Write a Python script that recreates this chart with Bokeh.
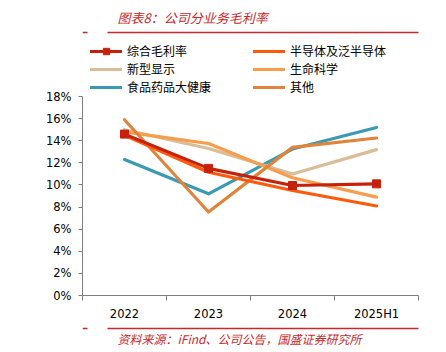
from bokeh.plotting import figure
from bokeh.models import (Legend, LegendItem, FixedTicker, Label, BoxAnnotation, Range1d)
from bokeh.layouts import column
from bokeh.embed import file_html
from bokeh.resources import INLINE

categories = ["2022", "2023", "2024", "2025H1"]
overall = [14.6, 11.5, 9.95, 10.1]
semi = [14.5, 11.15, 9.5, 8.1]
display_ = [15.0, 13.3, 11.0, 13.2]
life = [14.8, 13.75, 10.65, 8.9]
food = [12.3, 9.2, 13.25, 15.2]
other = [15.9, 7.55, 13.4, 14.25]
y_ticks = [0, 2, 4, 6, 8, 10, 12, 14, 16, 18]

colors = {"综合毛利率": "#C5220C", "半导体及泛半导体": "#FF5A0C", "新型显示": "#D8BD97",
          "生命科学": "#F89C4D", "食品药品大健康": "#3A9AB3", "其他": "#DF843A"}
series = {"综合毛利率": overall, "半导体及泛半导体": semi, "新型显示": display_,
          "生命科学": life, "食品药品大健康": food, "其他": other}

xs = [i + 0.5 for i in range(len(categories))]
RED = "#C8282D"
W = 446
HEAD_H, MAIN_H, FOOT_H = 40, 284, 28


def red_rule(fig, y):
    for l, r in [(25, 440), (0, 5)]:
        fig.add_layout(BoxAnnotation(left=l, right=r, bottom=y - 0.8, top=y + 0.8,
                                     left_units="screen", right_units="screen",
                                     top_units="screen", bottom_units="screen",
                                     fill_color=RED, fill_alpha=1, line_color=None))


def blank_fig(h):
    f = figure(width=W, height=h, output_backend="svg", toolbar_location=None,
               x_range=Range1d(0, 1), y_range=Range1d(0, 1),
               x_axis_location=None, y_axis_location=None, min_border=0)
    f.outline_line_color = None
    f.xgrid.visible = False
    f.ygrid.visible = False
    return f


# header
head = blank_fig(HEAD_H)
head.add_layout(Label(x=35, y=HEAD_H - 17, x_units="screen", y_units="screen",
                      text="图表8：公司分业务毛利率",
                      text_font="Noto Sans CJK SC", text_font_size="13px", text_font_style="italic",
                      text_color=RED, text_baseline="middle"))
red_rule(head, HEAD_H - 32)

# main chart
p = figure(width=W, height=MAIN_H, output_backend="svg", toolbar_location=None,
           x_range=Range1d(0, len(categories)), y_range=Range1d(0, 23.07),
           min_border_left=82, min_border_right=28, min_border_top=0, min_border_bottom=29)
p.outline_line_color = None
p.xgrid.visible = False
p.ygrid.visible = False

renderers = {}
for nm in ["食品药品大健康", "新型显示", "生命科学", "其他", "半导体及泛半导体", "综合毛利率"]:
    r = p.line(xs, series[nm], line_color=colors[nm], line_width=3.2,
               line_cap="round", line_join="round")
    renderers[nm] = [r]
sq = p.scatter(xs, overall, marker="square", size=8, fill_color=colors["综合毛利率"],
               line_color=colors["综合毛利率"])
renderers["综合毛利率"].append(sq)

yax = p.yaxis[0]
yax.bounds = (0, 18)
yax.ticker = FixedTicker(ticks=y_ticks)
yax.major_label_overrides = {t: f"{t}%" for t in y_ticks}
yax.axis_line_color = "#7F7F7F"
yax.major_tick_line_color = "#7F7F7F"
yax.major_tick_in = 0
yax.major_tick_out = 4
yax.minor_tick_line_color = None
yax.major_label_standoff = 7
yax.major_label_text_font = "DejaVu Sans"
yax.major_label_text_font_size = "11.5px"
yax.major_label_text_color = "#000000"

xax = p.xaxis[0]
xax.ticker = FixedTicker(ticks=xs, minor_ticks=list(range(len(categories) + 1)))
xax.major_label_overrides = {x: c for x, c in zip(xs, categories)}
xax.axis_line_color = "#7F7F7F"
xax.major_tick_line_color = None
xax.major_tick_in = 0
xax.major_tick_out = 0
xax.minor_tick_line_color = "#7F7F7F"
xax.minor_tick_in = 0
xax.minor_tick_out = 5
xax.major_label_standoff = 6
xax.major_label_text_font = "DejaVu Sans"
xax.major_label_text_font_size = "11.5px"
xax.major_label_text_color = "#000000"


def make_legend(nms, loc):
    items = [LegendItem(label=n, renderers=renderers[n]) for n in nms]
    lg = Legend(items=items, location=loc, orientation="vertical",
                label_text_font="Noto Sans CJK SC", label_text_font_size="12px",
                label_text_color="#000000", glyph_width=32, glyph_height=16,
                label_height=16, spacing=1, label_standoff=5, padding=0, margin=0,
                border_line_color=None, background_fill_alpha=0)
    p.add_layout(lg)


make_legend(["综合毛利率", "新型显示", "食品药品大健康"], (8, 200))
make_legend(["半导体及泛半导体", "生命科学", "其他"], (171, 200))

# footer
foot = blank_fig(FOOT_H)
red_rule(foot, FOOT_H - 4)
foot.add_layout(Label(x=35, y=FOOT_H - 14, x_units="screen", y_units="screen",
                      text="资料来源：iFind、公司公告，国盛证券研究所",
                      text_font="Noto Sans CJK SC", text_font_size="12px", text_font_style="italic",
                      text_color=RED, text_baseline="middle"))

layout = column(head, p, foot, spacing=0)
open("out.html", "w").write(file_html(layout, INLINE))
